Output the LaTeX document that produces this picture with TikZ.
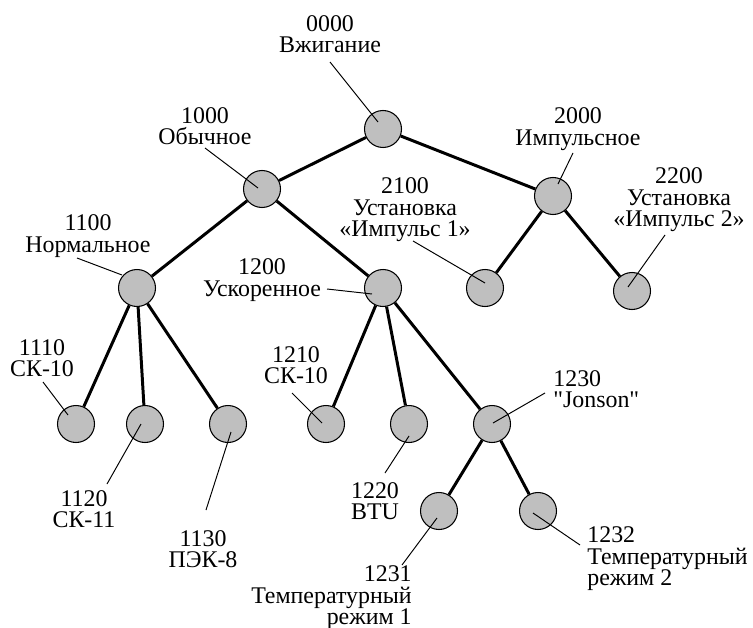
\documentclass[tikz,border=0pt]{standalone}
\usepackage{fontspec}
\setmainfont{Liberation Serif}
\usepackage{tikz}
\usetikzlibrary{calc}
\lineskiplimit=-6pt

\begin{document}
\begin{tikzpicture}[x=0.02cm, y=-0.02cm,
  st/.style={circle, draw=black, fill=gray!50, line width=0.6pt, minimum size=0.74cm, inner sep=0pt},
  edge/.style={draw=black, line width=1.7pt},
  lead/.style={draw=black, line width=0.55pt},
  txt/.style={font=\fontsize{13.6}{12.3}\selectfont, align=center, inner sep=0pt}
]
  \useasboundingbox (0,0) rectangle (753,628);

  % states
  \foreach \n/\x/\y in {0000/383/129, 1000/262/189, 2000/553/196,
    1100/137/288, 1200/383/288, 2100/485/288, 2200/632/291,
    1110/76/424, 1120/145/424, 1130/228/424, 1210/326/424, 1220/409/424, 1230/492/424,
    1231/439/511, 1232/538/511}
    \node[st] (n\n) at (\x,\y) {};

  \foreach \u/\v in {0000/1000,0000/2000,1000/1100,1000/1200,2000/2100,2000/2200,
    1100/1110,1100/1120,1100/1130,1200/1210,1200/1220,1200/1230,1230/1231,1230/1232}
    \draw[edge] (n\u) -- (n\v);

  % labels
  \node[txt] (l0000) at (330,34) {0000\\Вжигание};
  \node[txt] (l1000) at (205,126) {1000\\Обычное};
  \node[txt] (l2000) at (578,129) {2000\\Импульсное};
  \node[txt] (l2100) at (405,210) {2100\\Установка\\«Импульс 1»};
  \node[txt] (l2200) at (679,200) {2200\\Установка\\«Импульс 2»};
  \node[txt] (l1100) at (88,236) {1100\\Нормальное};
  \node[txt] (l1200) at (262,280) {1200\\Ускоренное};
  \node[txt] (l1110) at (42,358) {1110\\СК-10};
  \node[txt] (l1210) at (296,365) {1210\\СК-10};
  \node[txt] (l1120) at (84,509) {1120\\СК-11};
  \node[txt] (l1130) at (203,549) {1130\\ПЭК-8};
  \node[txt] (l1220) at (375,501) {1220\\BTU};
  \node[txt, anchor=west, align=left] (l1230) at (553,389) {1230\\\textquotedbl Jonson\textquotedbl};
  \node[txt, anchor=east, align=right] (l1231) at (412,598) {1231\\Температурный\\режим 1};
  \node[txt, anchor=west, align=left] (l1232) at (587,559) {1232\\Температурный\\режим 2};

  % leaders
  \foreach \n/\sx/\sy/\dx/\dy in {0000/330/62/-5/-7, 1000/205/148/-4/-1, 2000/573/153/5/-12,
    2100/413/241/0/-5, 2200/665/235/-4/-4, 1100/77/258/-15/-13, 1200/327/289/-11/6,
    1110/43/382/-8/-9, 1120/107/484/-4/0, 1130/206/510/3/8, 1210/292/393/-4/-1,
    1220/385/473/0/12, 1230/545/393/1/-1, 1231/402/565/-2/7, 1232/580/545/-5/2} {
    \coordinate (t\n) at (\sx,\sy);
    \draw[lead] (t\n) -- ($(n\n)+(\dx,\dy)$);
  }
\end{tikzpicture}
\end{document}
